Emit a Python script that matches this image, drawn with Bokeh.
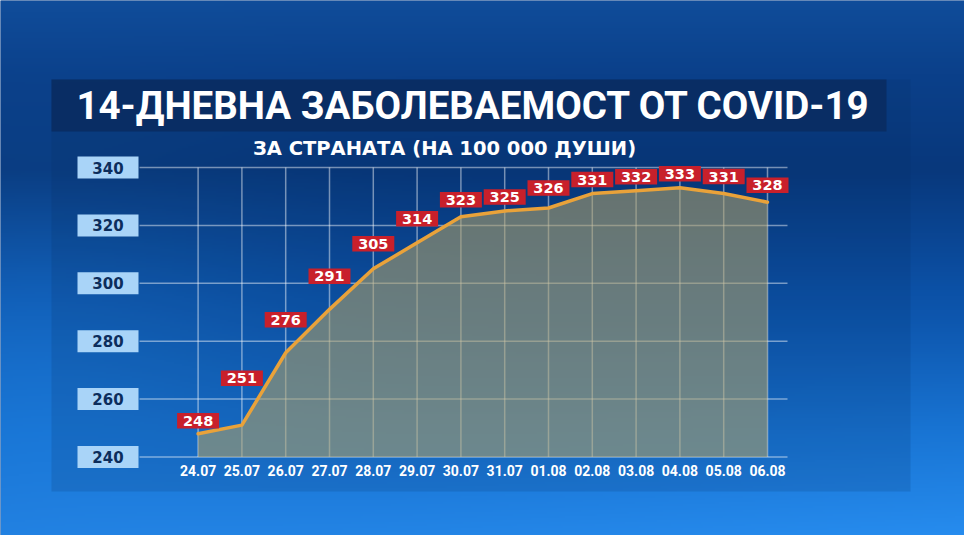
import numpy as np
from bokeh.plotting import figure
from bokeh.models import ColumnDataSource, Range1d
from bokeh.core.properties import value
from bokeh.embed import file_html
from bokeh.resources import INLINE

# ---------------- data ----------------
dates = ["24.07", "25.07", "26.07", "27.07", "28.07", "29.07", "30.07",
         "31.07", "01.08", "02.08", "03.08", "04.08", "05.08", "06.08"]
incidence = [248, 251, 276, 291, 305, 314, 323, 325, 326, 331, 332, 333, 331, 328]
y_ticks = [240, 260, 280, 300, 320, 340]
y_tick_labels = ["240", "260", "280", "300", "320", "340"]
title_text = "14-ДНЕВНА ЗАБОЛЕВАЕМОСТ ОТ COVID-19"
subtitle_text = "ЗА СТРАНАТА (НА 100 000 ДУШИ)"

# label lift above each point (screen px) - layout only
label_lift = [13, 47, 33, 33, 25, 24, 17, 14, 20, 14, 14, 14, 17, 17]

# ---------------- layout (page pixels) ----------------
W, H = 964, 535
OFF = 8
X0_PX, DX_PX = 205.6, 43.8          # first date x, px per day
YTOP_PX, YBOT_PX = 175.0, 464.5     # y of 340 and 240
PPU = (YBOT_PX - YTOP_PX) / (y_ticks[-1] - y_ticks[0])


def xd(px):
    return (px - X0_PX) / DX_PX


def yd(py):
    return y_ticks[0] + (YBOT_PX - py) / PPU


p = figure(width=W, height=H, x_range=Range1d(xd(OFF), xd(OFF + W)),
           y_range=Range1d(yd(OFF + H), yd(OFF)),
           x_axis_type=None, y_axis_type=None, min_border=0,
           toolbar_location=None, output_backend="svg",
           outline_line_color=None, border_fill_color="#0a3f88",
           background_fill_color="#0a3f88")
p.grid.visible = False

# ---------------- background gradient ----------------
nx, ny = 482, 268
u = (np.arange(nx) + 0.5) / nx * W + OFF
v = (np.arange(ny) + 0.5) / ny * H + OFF
U, V = np.meshgrid(u / 980.0, v / 551.0)
stops = [0.0, 0.15, 0.32, 0.55, 0.8, 1.0]
R = np.interp(V, stops, [16, 11, 8, 12, 22, 34])
G = np.interp(V, stops, [78, 64, 56, 82, 110, 128])
B = np.interp(V, stops, [156, 138, 124, 168, 204, 224])
boost = 14 * np.exp(-((U - 0.05) / 0.25) ** 2) * np.exp(-((V - 0.6) / 0.3) ** 2)
boost += 18 * U * np.clip(V - 0.6, 0, 1) * 2
R = R + boost * 0.4
G = G + boost
B = B + boost * 1.2
img = np.empty((ny, nx), dtype=np.uint32)
view = img.view(dtype=np.uint8).reshape((ny, nx, 4))
view[:, :, 0] = np.clip(R, 0, 255).astype(np.uint8)
view[:, :, 1] = np.clip(G, 0, 255).astype(np.uint8)
view[:, :, 2] = np.clip(B, 0, 255).astype(np.uint8)
view[:, :, 3] = 255
img = img[::-1]
p.image_rgba(image=[img], x=xd(OFF), y=yd(OFF + H), dw=xd(OFF + W) - xd(OFF),
             dh=yd(OFF) - yd(OFF + H))

# panel
p.quad(left=xd(59), right=xd(918), top=yd(87), bottom=yd(499),
       fill_color="#052a60", fill_alpha=0.16, line_color=None)
# title box
p.quad(left=xd(59), right=xd(894), top=yd(87), bottom=yd(139),
       fill_color="#0a2c62", fill_alpha=0.92, line_color=None)
p.text(x=[xd(481)], y=[yd(113)], text=[title_text], text_color="white",
       text_font=value("Roboto"), text_font_style="bold", text_font_size="38.5px",
       text_align="center", text_baseline="middle")
p.text(x=[xd(452)], y=[yd(156)], text=[subtitle_text], text_color="white",
       text_font=value("DejaVu Sans"), text_font_style="bold", text_font_size="19.5px",
       text_align="center", text_baseline="middle")

# ---------------- grid ----------------
idx = list(range(len(dates)))
p.segment(x0=[xd(147)] * len(y_ticks), x1=[xd(795)] * len(y_ticks),
          y0=y_ticks, y1=y_ticks, line_color="white", line_alpha=0.45, line_width=1.5)
p.segment(x0=idx, x1=idx, y0=[y_ticks[0]] * len(idx), y1=[y_ticks[-1]] * len(idx),
          line_color="white", line_alpha=0.45, line_width=1.5)

# y tick boxes
ysrc = ColumnDataSource(dict(x=[xd(115.5)] * len(y_ticks), y=y_ticks, t=y_tick_labels))
p.rect(x="x", y="y", width=61, height=22, width_units="screen", height_units="screen",
       source=ysrc, fill_color="#a9d4f8", line_color=None)
p.text(x="x", y="y", text="t", source=ysrc, text_color="#0c2d5c",
       text_font=value("DejaVu Sans"), text_font_style="bold", text_font_size="15px",
       text_align="center", text_baseline="middle")

# ---------------- area + line ----------------
src = ColumnDataSource(dict(x=idx, y=incidence, base=[y_ticks[0]] * len(idx),
                            d=dates, lab=[str(v_) for v_ in incidence],
                            ly=[val + lift / PPU for val, lift in zip(incidence, label_lift)],
                            xl=[yd(478)] * len(idx)))
p.varea(x="x", y1="base", y2="y", source=src, fill_color="#ad9f68", fill_alpha=0.58)
p.line(x="x", y="y", source=src, line_color="#e9a23a", line_width=3.5,
       line_join="round", line_cap="round")

# value labels
p.rect(x="x", y="ly", width=42, height=15.5, width_units="screen", height_units="screen",
       source=src, fill_color="#c8202b", line_color=None)
p.text(x="x", y="ly", text="lab", source=src, text_color="white",
       text_font=value("DejaVu Sans"), text_font_style="bold", text_font_size="14.5px",
       text_align="center", text_baseline="middle")

# x labels
p.text(x="x", y="xl", text="d", source=src, text_color="white",
       text_font=value("Roboto"), text_font_style="bold", text_font_size="14px",
       text_align="center", text_baseline="middle")

open("out.html", "w").write(file_html(p, INLINE))
